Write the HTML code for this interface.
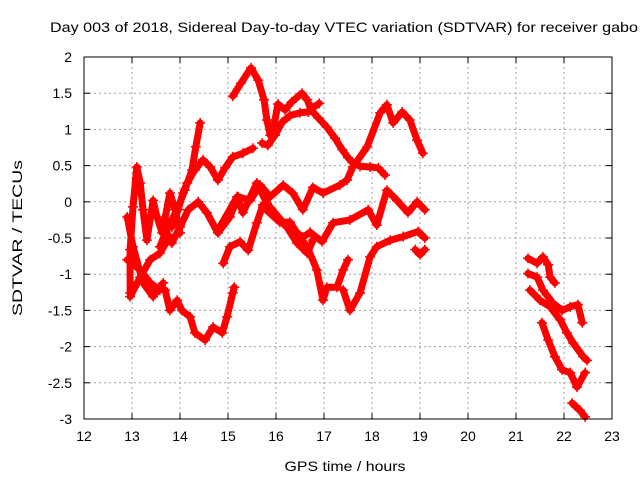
<!DOCTYPE html>
<html><head><meta charset="utf-8"><style>
body{margin:0;background:#fff;}
svg text{font-family:"Liberation Sans",sans-serif;fill:#000;}
</style></head><body>
<svg id="chart" width="640" height="480" xmlns="http://www.w3.org/2000/svg">
<rect width="640" height="480" fill="#fff"/>
<g id="grid"></g>
<g id="series"></g>
<rect x="84" y="57" width="528" height="362" fill="none" stroke="#000" stroke-width="1"/>
<g id="axes"></g>
<text x="50" y="32" font-size="14" textLength="588" lengthAdjust="spacingAndGlyphs">Day 003 of 2018, Sidereal Day-to-day VTEC variation (SDTVAR) for receiver gabo</text>
<text x="345" y="471" font-size="14" text-anchor="middle" textLength="121" lengthAdjust="spacingAndGlyphs">GPS time / hours</text>
<text x="22" y="238" font-size="14" text-anchor="middle" transform="rotate(-90 22 238)" textLength="156" lengthAdjust="spacingAndGlyphs">SDTVAR / TECUs</text>
</svg>
<script>
const xTicks=[12,13,14,15,16,17,18,19,20,21,22,23];
const yTicks=[2,1.5,1,0.5,0,-0.5,-1,-1.5,-2,-2.5,-3];
const s1t=[15.10,15.27,15.48,15.63,15.75,15.81,15.88,15.96,16.04,16.19,16.33,16.54,16.65,16.73,16.88,17.06,17.23,17.38,17.50,17.60,17.75,17.96,18.13,18.27];
const s1v=[1.46,1.64,1.85,1.68,1.41,1.13,0.92,1.06,1.35,1.27,1.38,1.50,1.41,1.27,1.16,1.03,0.88,0.72,0.61,0.54,0.49,0.48,0.47,0.37];
const s2t=[15.71,15.83,15.98,16.13,16.29,16.50,16.67,16.77,16.90];
const s2v=[0.81,0.78,0.92,1.10,1.19,1.23,1.24,1.30,1.36];
const s3t=[13.83,14.00,14.17,14.38,14.56,14.79,15.04,15.21,15.46,15.67,15.88,16.15,16.35,16.56,16.77,16.98,17.33,17.48,17.60,17.90,18.17,18.31,18.44,18.63,18.79,18.94,19.06];
const s3v=[-0.57,-0.35,-0.11,0.00,-0.15,-0.43,-0.21,0.07,0.02,0.23,0.07,0.23,0.12,-0.11,0.20,0.12,0.23,0.30,0.48,0.76,1.23,1.34,1.09,1.24,1.13,0.85,0.67];
const s5t=[13.83,13.96,14.06,14.15,14.31,14.48,14.63,14.79,14.94,15.10,15.31,15.52];
const s5v=[-0.35,-0.11,0.12,0.26,0.44,0.58,0.48,0.30,0.47,0.62,0.67,0.74];
const s6t=[13.58,13.75,13.94,14.10,14.25,14.33,14.42];
const s6v=[-0.62,-0.35,-0.11,0.16,0.44,0.76,1.09];
const s7t=[14.83,15.19,15.31,15.60,15.81,16.15,16.44,16.56,16.71,16.96,17.19,17.54,17.92,18.10,18.31,18.52,18.75,18.94,19.10];
const s7v=[-0.35,0.07,-0.15,0.26,-0.02,-0.29,-0.43,-0.49,-0.42,-0.55,-0.29,-0.25,-0.11,-0.32,0.16,0.02,-0.15,0.00,-0.11];
const s8at=[14.90,15.04,15.25,15.42,15.60,15.73,16.23,16.44,16.65,16.77];
const s8av=[-0.85,-0.62,-0.55,-0.67,-0.29,-0.04,-0.35,-0.57,-0.71,-0.53];
const s8bt=[15.73,16.08,16.29,16.50,16.65,16.85,16.98,17.06,17.27,17.40,17.50];
const s8bv=[-0.07,-0.28,-0.28,-0.49,-0.62,-0.94,-1.36,-1.18,-1.18,-0.94,-0.80];
const s8ct=[17.40,17.54,17.75,17.96,18.10,18.38,18.65,18.96,19.10];
const s8cv=[-1.22,-1.50,-1.26,-0.76,-0.62,-0.53,-0.48,-0.41,-0.50];
const s8dt=[18.90,19.00,19.10];
const s8dv=[-0.66,-0.73,-0.66];
const s9t=[13.44,13.69,13.79,13.94,14.04,14.21,14.31,14.52,14.69,14.88,14.98,15.10,15.13];
const s9v=[-1.18,-1.22,-1.50,-1.36,-1.50,-1.59,-1.81,-1.91,-1.73,-1.81,-1.59,-1.26,-1.18];
const s10t=[12.96,12.96,13.02,13.10,13.17,13.23,13.31,13.44,13.52,13.63,13.79,13.90,14.00];
const s10v=[-1.26,-0.66,-0.07,0.48,0.26,-0.11,-0.53,0.02,-0.21,-0.43,0.12,-0.11,-0.43];
const s11t=[12.90,13.17,13.38,13.58];
const s11v=[-0.80,-0.94,-1.12,-1.22];
const s11bt=[12.96,13.17,13.38,13.58,13.79];
const s11bv=[-1.31,-1.04,-0.80,-0.71,-0.48];
const s12t=[12.90,13.02,13.23,13.44,13.65];
const s12v=[-0.21,-0.62,-1.12,-1.31,-1.12];
const r1t=[21.25,21.44,21.56,21.67,21.71,21.81];
const r1v=[-0.78,-0.85,-0.76,-0.87,-1.04,-1.12];
const r2t=[21.25,21.44,21.56,21.77,21.96,22.13,22.29,22.38];
const r2v=[-0.99,-1.04,-1.22,-1.40,-1.50,-1.45,-1.42,-1.67];
const r3t=[21.29,21.50,21.71,21.92,22.06,22.19,22.40,22.48];
const r3v=[-1.22,-1.36,-1.45,-1.63,-1.81,-1.95,-2.14,-2.19];
const r4t=[21.54,21.67,21.81,21.96,22.13,22.27,22.44];
const r4v=[-1.67,-1.91,-2.14,-2.32,-2.36,-2.56,-2.36];
const r5t=[22.17,22.33,22.44];
const r5v=[-2.78,-2.88,-2.97];

const NS='http://www.w3.org/2000/svg';
const X0=84,X1=612,Y0=419,Y1=57;
function xs(h){return X0+(h-12)/(23-12)*(X1-X0);}
function ys(v){return Y0-(v+3)/(2+3)*(Y0-Y1);}
function mk(tag,attrs,parent){const e=document.createElementNS(NS,tag);for(const k in attrs)e.setAttribute(k,attrs[k]);parent.appendChild(e);return e;}
const grid=document.getElementById('grid'),axes=document.getElementById('axes'),ser=document.getElementById('series');
xTicks.forEach(t=>{
  const x=xs(t);
  if(t>12&&t<23){const g=mk('line',{x1:x,x2:x,y1:Y1,y2:Y0,stroke:'#a0a0a0','stroke-dasharray':'2,3'},grid);
  
  }
  mk('line',{x1:x,x2:x,y1:Y0,y2:Y0-6,stroke:'#000'},axes);
  mk('line',{x1:x,x2:x,y1:Y1,y2:Y1+6,stroke:'#000'},axes);
  const tx=mk('text',{x:x,y:Y0+22,'font-size':'14','text-anchor':'middle'},axes);
  tx.textContent=t;
  
  
});
yTicks.forEach(t=>{
  const y=ys(t);
  if(t<2&&t>-3){const g=mk('line',{x1:X0,x2:X1,y1:y,y2:y,stroke:'#a0a0a0','stroke-dasharray':'2,3'},grid);
  
  }
  mk('line',{x1:X0,x2:X0+6,y1:y,y2:y,stroke:'#000'},axes);
  mk('line',{x1:X1,x2:X1-6,y1:y,y2:y,stroke:'#000'},axes);
  const tx=mk('text',{x:X0-12,y:y+5,'font-size':'14','text-anchor':'end'},axes);
  tx.textContent=t;
  
  
});
const all=[[s1t,s1v],[s2t,s2v],[s3t,s3v],[s5t,s5v],[s6t,s6v],[s7t,s7v],[s8at,s8av],[s8bt,s8bv],[s8ct,s8cv],[s8dt,s8dv],[s9t,s9v],[s10t,s10v],[s11t,s11v],[s11bt,s11bv],[s12t,s12v],[r1t,r1v],[r2t,r2v],[r3t,r3v],[r4t,r4v],[r5t,r5v]];
all.forEach((s,i)=>{
  const g=mk('g',{},ser);
  
  
  const pts=s[0].map((t,j)=>xs(t).toFixed(1)+','+ys(s[1][j]).toFixed(1)).join(' ');
  mk('polyline',{points:pts,fill:'none',stroke:'#f00','stroke-width':7,'stroke-linejoin':'round','stroke-linecap':'round'},g);
  s[0].forEach((t,j)=>{
    const x=xs(t),y=ys(s[1][j]);
    const p=mk('path',{d:`M${x-5},${y}H${x+5}M${x},${y-5}V${y+5}`,stroke:'#f00','stroke-width':1.5},g);
    
    
  });
});
</script>
</body></html>
